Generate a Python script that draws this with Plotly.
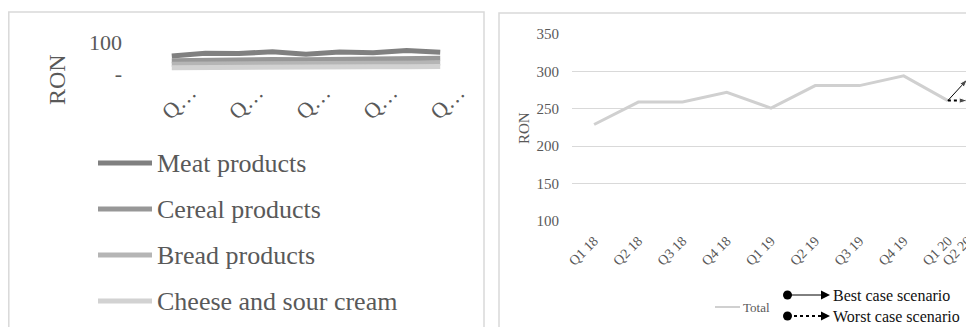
import plotly.graph_objects as go

# ---------------- data ----------------
quarters = ["Q1 18", "Q2 18", "Q3 18", "Q4 18", "Q1 19", "Q2 19", "Q3 19", "Q4 19", "Q1 20", "Q2 20"]

product_names = ["Meat products", "Cereal products", "Bread products", "Cheese and sour cream"]
meat = [55, 64, 63, 69, 61, 68, 66, 73, 67]
cereal = [40, 42, 42, 44, 43, 45, 45, 47, 48]
bread = [29, 30, 30, 31, 30, 31, 32, 33, 33]
cheese = [18, 19, 19, 20, 19, 20, 21, 21, 22]

total_name = "Total"
total = [229, 259, 259, 272, 251, 281, 281, 294, 261]

best_name = "Best case scenario"
best_case = [261, 290]          # Q1 20 -> Q2 20
worst_name = "Worst case scenario"
worst_case = [261, 261]         # Q1 20 -> Q2 20

left_y_ticks = [0, 100]
left_y_labels = ["-", "100"]
right_y_ticks = [100, 150, 200, 250, 300, 350]

# ---------------- style ----------------
WIN_W, WIN_H = 974, 327
OFF = 8                      # page body margin
W, H = WIN_W - OFF, WIN_H - OFF
FONT = "Liberation Serif"
TXT = "#595959"
GRID = "#d9d9d9"
prod_colors = ["#808080", "#979797", "#b5b5b5", "#d2d2d2"]
total_color = "#d0d0d0"


def px(x):
    return (x - OFF) / W


def py(y):
    return 1 - (y - OFF) / H


fig = go.Figure()

# left panel series
n_left = len(meat)
left_x = list(range(n_left))
for name, vals, col in zip(product_names, [meat, cereal, bread, cheese], prod_colors):
    fig.add_trace(go.Scatter(x=left_x, y=vals, mode="lines", name=name,
                             line=dict(color=col, width=5), xaxis="x", yaxis="y",
                             showlegend=False))

# right panel
right_x = list(range(len(total)))
fig.add_trace(go.Scatter(x=right_x, y=total, mode="lines", name=total_name,
                         line=dict(color=total_color, width=3), xaxis="x2", yaxis="y2",
                         showlegend=False))

# the reference squeezes the last quarter label just after Q1 20
right_tickvals = list(range(len(quarters) - 1)) + [len(quarters) - 2 + 0.45]
scen_x = [right_tickvals[-2], right_tickvals[-1]]

fig.add_trace(go.Scatter(x=scen_x, y=worst_case, mode="lines+markers", name=worst_name,
                         line=dict(color="black", width=2, dash="dot"),
                         marker=dict(symbol=["circle", "arrow"], size=[11, 9],
                                     angleref="previous", color="black"),
                         xaxis="x2", yaxis="y2", showlegend=False, cliponaxis=False))
fig.add_trace(go.Scatter(x=scen_x, y=best_case, mode="lines+markers", name=best_name,
                         line=dict(color="black", width=1),
                         marker=dict(symbol=["circle", "arrow"], size=[11, 9],
                                     angleref="previous", color="black"),
                         xaxis="x2", yaxis="y2", showlegend=False, cliponaxis=False))

shapes = []
annotations = []

# panel borders
shapes.append(dict(type="rect", xref="paper", yref="paper", x0=px(8.8), x1=px(484),
                   y0=py(345), y1=py(12), line=dict(color=GRID, width=1.5)))
shapes.append(dict(type="rect", xref="paper", yref="paper", x0=px(499), x1=px(1000),
                   y0=py(345), y1=py(13), line=dict(color=GRID, width=1.5)))

# left legend
for i, (name, col) in enumerate(zip(product_names, prod_colors)):
    yy = 163 + 46 * i
    shapes.append(dict(type="line", xref="paper", yref="paper", x0=px(98), x1=px(152),
                       y0=py(yy), y1=py(yy), line=dict(color=col, width=5)))
    annotations.append(dict(text=name, xref="paper", yref="paper", x=px(155), y=py(yy),
                            xanchor="left", yanchor="middle", showarrow=False,
                            font=dict(family=FONT, size=26, color=TXT)))

# right legend: Total
shapes.append(dict(type="line", xref="paper", yref="paper", x0=px(715), x1=px(740),
                   y0=py(307), y1=py(307), line=dict(color=total_color, width=2)))
annotations.append(dict(text=total_name, xref="paper", yref="paper", x=px(741), y=py(307),
                        xanchor="left", yanchor="middle", showarrow=False,
                        font=dict(family=FONT, size=13, color=TXT)))

# right legend: scenarios
for name, yy, dash, lw in [(best_name, 295, "solid", 1), (worst_name, 316, "dot", 2)]:
    shapes.append(dict(type="circle", xref="paper", yref="paper", x0=px(783), x1=px(792),
                       y0=py(yy + 4.5), y1=py(yy - 4.5), fillcolor="black",
                       line=dict(color="black", width=0)))
    shapes.append(dict(type="line", xref="paper", yref="paper", x0=px(788), x1=px(822),
                       y0=py(yy), y1=py(yy), line=dict(color="black", width=lw, dash=dash)))
    path = (f"M {px(821)} {py(yy - 4.5)} L {px(830)} {py(yy)} "
            f"L {px(821)} {py(yy + 4.5)} Z")
    shapes.append(dict(type="path", xref="paper", yref="paper", path=path,
                       fillcolor="black", line=dict(color="black", width=0)))
    annotations.append(dict(text=name, xref="paper", yref="paper", x=px(831), y=py(yy),
                            xanchor="left", yanchor="middle", showarrow=False,
                            font=dict(family=FONT, size=16, color="#111111")))

# axis titles
annotations.append(dict(text="RON", xref="paper", yref="paper", x=px(57), y=py(80),
                        xanchor="center", yanchor="middle", textangle=-90, showarrow=False,
                        font=dict(family=FONT, size=24, color=TXT)))
annotations.append(dict(text="RON", xref="paper", yref="paper", x=px(524), y=py(128),
                        xanchor="center", yanchor="middle", textangle=-90, showarrow=False,
                        font=dict(family=FONT, size=15, color=TXT)))

left_tickvals = left_x[::2]
left_ticktext = [quarters[i][0] + "…" for i in left_tickvals]

fig.update_layout(
    width=W, height=H,
    margin=dict(l=0, r=0, t=0, b=0, autoexpand=False),
    paper_bgcolor="white", plot_bgcolor="white",
    showlegend=False,
    font=dict(family=FONT, color=TXT),
    xaxis=dict(domain=[px(155), px(457)], range=[-0.5, n_left - 0.5],
               tickvals=left_tickvals, ticktext=left_ticktext, tickangle=-45,
               tickfont=dict(family=FONT, size=22, color=TXT),
               showgrid=False, zeroline=False, showline=False, ticks="",
               ticklabelshift=18, ticklabelstandoff=1, automargin=False,
               ticklabeloverflow="allow"),
    yaxis=dict(domain=[py(73.3), py(42)], range=[0, 100],
               tickvals=left_y_ticks, ticktext=left_y_labels,
               tickfont=dict(family=FONT, size=22, color=TXT),
               showgrid=True, gridcolor=GRID, gridwidth=1.5, zeroline=False,
               showline=False, ticks="", ticklabelstandoff=32, automargin=False,
               ticklabeloverflow="allow"),
    xaxis2=dict(domain=[px(572), px(970)], range=[-0.5, 8.5],
                tickvals=right_tickvals, ticktext=quarters, tickangle=-45,
                tickfont=dict(family=FONT, size=14, color=TXT),
                showgrid=False, zeroline=False, showline=False, ticks="",
                ticklabelstandoff=8, anchor="y2", automargin=False,
                ticklabeloverflow="allow"),
    yaxis2=dict(domain=[py(221), py(34)], range=[100, 350],
                tickvals=right_y_ticks,
                tickfont=dict(family=FONT, size=15, color=TXT),
                showgrid=True, gridcolor=GRID, gridwidth=1, zeroline=False,
                showline=False, ticks="", ticklabelstandoff=12, anchor="x2",
                automargin=False, ticklabeloverflow="allow"),
    shapes=shapes,
    annotations=annotations,
)

fig.write_html("out.html")
